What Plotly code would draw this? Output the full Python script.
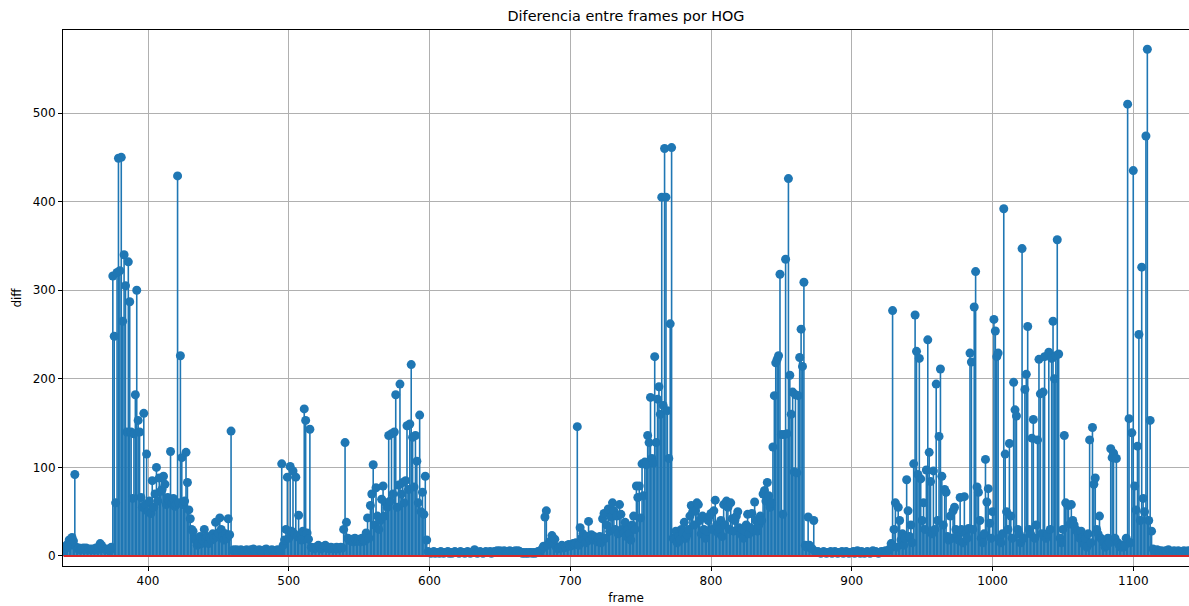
import numpy as np
import plotly.graph_objects as go

# HOG difference between consecutive frames, one value per frame
start_a = 340
diff_a = [
    5, 8, 12, 10, 18, 15, 21, 17, 92, 10,
    8, 9, 7, 8, 9, 8, 9, 7, 8, 7,
    8, 7, 8, 9, 7, 10, 14, 12, 9, 8,
    7, 8, 7, 6, 10, 316, 248, 60, 320, 449,
    322, 450, 265, 340, 305, 140, 332, 287, 140, 65,
    138, 182, 300, 153, 140, 66, 55, 161, 58, 115,
    50, 62, 48, 85, 55, 70, 100, 62, 88, 73,
    75, 90, 81, 58, 66, 62, 118, 60, 65, 56,
    58, 429, 60, 226, 111, 58, 62, 117, 83, 52,
    42, 30, 28, 20, 18, 12, 15, 22, 14, 18,
    30, 20, 22, 14, 20, 18, 25, 20, 38, 22,
    26, 43, 30, 22, 18, 25, 20, 42, 24, 141,
    6, 7, 6, 7, 5, 6, 7, 6, 5, 6,
    7, 6, 5, 7, 6, 8, 6, 5, 6, 7,
    6, 5, 6, 7, 8, 6, 5, 6, 7, 6,
    5, 6, 7, 6, 5, 104, 12, 18, 30, 89,
    20, 101, 28, 96, 25, 89, 22, 46, 20, 18,
    28, 166, 153, 26, 19, 143, 10, 9, 8, 10,
    9, 12, 10, 8, 9, 11, 12, 10, 9, 8,
    10, 9, 8, 9, 10, 8, 9, 10, 9, 30,
    128, 38, 20, 18, 17, 19, 16, 20, 17, 18,
    19, 16, 20, 18, 17, 26, 43, 20, 57, 70,
    103, 35, 77, 45, 30, 40, 64, 79, 45, 60,
    55, 136, 62, 138, 70, 140, 182, 55, 80, 194,
    70, 83, 60, 85, 147, 75, 149, 216, 134, 78,
    136, 107, 60, 159, 50, 72, 47, 90, 18, 5,
]

start_b = 600
diff_b = [
    4, 3, 4, 5, 3, 4, 4, 3, 5, 4,
    3, 4, 4, 5, 3, 4, 3, 4, 5, 4,
    4, 3, 5, 4, 4, 3, 4, 5, 4, 3,
    4, 5, 7, 4, 3, 4, 5, 4, 3, 4,
    5, 4, 4, 5, 3, 4, 5, 4, 6, 5,
    6, 5, 4, 6, 5, 4, 5, 6, 5, 4,
    5, 6, 4, 6, 5, 4, 3, 4, 3, 4,
    3, 4, 4, 3, 4, 3, 4, 5, 4, 6,
    8, 11, 44, 51, 12, 15, 17, 23, 14, 19,
    10, 8, 9, 10, 12, 9, 11, 10, 12, 13,
    11, 12, 14, 13, 15, 146, 12, 32, 20, 25,
    18, 15, 22, 39, 18, 24, 20, 22, 21, 16,
    20, 22, 15, 42, 48, 20, 35, 53, 28, 44,
    60, 51, 30, 45, 25, 58, 47, 30, 26, 38,
    22, 30, 25, 18, 35, 45, 30, 79, 66, 79,
    43, 104, 68, 106, 103, 136, 128, 179, 110, 105,
    225, 128, 177, 191, 160, 405, 170, 460, 405, 164,
    110, 262, 461, 20, 19, 28, 15, 22, 18, 30,
    26, 38, 20, 24, 30, 45, 57, 50, 35, 51,
    60, 58, 40, 25, 45, 30, 20, 28, 40, 45,
    48, 30, 51, 63, 35, 26, 30, 40, 22, 58,
    35, 62, 55, 30, 60, 42, 28, 40, 45, 50,
    32, 25, 30, 20, 28, 35, 47, 25, 32, 48,
    30, 61, 40, 28, 35, 45, 40, 70, 74, 62,
    83, 68, 55, 60, 123, 181, 218, 222, 226, 318,
    137, 47, 137, 335, 138, 426, 204, 160, 185, 95,
    182, 94, 181, 224, 256, 214, 309, 12, 10, 44,
    12, 9, 8, 40, 5,
]

start_c = 875
diff_c = [
    4, 5, 4, 3, 4,
    5, 4, 3, 4, 4, 5, 3, 4, 5, 4,
    3, 4, 4, 5, 3, 4, 5, 4, 3, 4,
    4, 5, 3, 4, 6, 4, 3, 5, 4, 3,
    4, 5, 4, 3, 4, 6, 4, 5, 4, 3,
    4, 5, 4, 5, 6, 5, 6, 8, 14, 277,
    30, 60, 10, 55, 40, 18, 25, 12, 20, 86,
    51, 22, 35, 15, 104, 272, 231, 92, 223, 87,
    40, 60, 30, 97, 244, 117, 84, 25, 96, 30,
    194, 40, 135, 211, 90, 35, 75, 72, 22, 18,
    45, 20, 51, 55, 30, 22, 18, 66, 30, 15,
    67, 25, 20, 31, 229, 219, 30, 281, 321, 78,
    72, 40, 20, 15, 25, 109, 61, 76, 37, 20,
    50, 267, 254, 225, 229, 20, 15, 25, 392, 115,
    50, 30, 127, 45, 20, 196, 165, 158, 30, 25,
    15, 347, 20, 188, 205, 259, 30, 25, 133, 154,
    20, 35, 131, 222, 183, 25, 185, 225, 20, 25,
    230, 30, 223, 265, 200, 226, 357, 228, 20, 15,
    30, 136, 60, 58, 57, 36, 58, 40, 35, 30,
    28, 25, 20, 28, 21, 13, 20, 10, 25, 131,
    15, 145, 81, 88, 30, 25, 45, 20, 18, 15,
    10, 12, 20, 15, 121, 111, 116, 20, 110, 15,
    12, 10, 12, 10, 12, 20, 510, 155, 15, 139,
    435, 79, 52, 124, 250, 40, 326, 65, 50, 474,
    572, 40, 153, 28, 8, 6, 5, 7, 6, 5,
    6, 5, 4, 6, 5, 7, 5, 4, 5, 6,
    5, 4, 6, 5, 4, 5, 6, 4, 5, 6,
    5,
]

x_ticks = [400, 500, 600, 700, 800, 900, 1000, 1100]
y_ticks = [0, 100, 200, 300, 400, 500]

frames = np.concatenate([
    start_a + np.arange(len(diff_a)),
    start_b + np.arange(len(diff_b)),
    start_c + np.arange(len(diff_c)),
])
diff = np.array(diff_a + diff_b + diff_c, dtype=float)

BLUE = "#1f77b4"
RED = "#d62728"
FONT = "DejaVu Sans"

# vertical stems: (x, 0) -> (x, value), separated by gaps
n = len(frames)
stem_x = np.empty(n * 3, dtype=object)
stem_y = np.empty(n * 3, dtype=object)
stem_x[0::3] = frames
stem_x[1::3] = frames
stem_x[2::3] = None
stem_y[0::3] = 0.0
stem_y[1::3] = diff
stem_y[2::3] = None

fig = go.Figure()
fig.add_trace(go.Scatter(
    x=stem_x, y=stem_y, mode="lines",
    line=dict(color=BLUE, width=1.6),
    hoverinfo="skip", showlegend=False,
))
fig.add_trace(go.Scatter(
    x=frames, y=diff, mode="markers",
    marker=dict(color=BLUE, size=9, line=dict(width=0)),
    showlegend=False,
))

# red baseline at zero, drawn over the stems and markers
fig.add_shape(
    type="line", xref="x", yref="y",
    x0=frames.min(), x1=frames.max(), y0=0, y1=0,
    line=dict(color=RED, width=2), layer="above",
)

fig.update_layout(
    width=1189, height=606,
    margin=dict(l=63, r=0, t=30, b=40),
    paper_bgcolor="white", plot_bgcolor="white",
    font=dict(family=FONT, size=12, color="black"),
    title=dict(text="Diferencia entre frames por HOG", x=0.5, xref="paper",
               y=1 - 16 / 606, yref="container", yanchor="middle",
               font=dict(family=FONT, size=14.4, color="black")),
    xaxis=dict(
        range=[339.6, 1139.6], tickvals=x_ticks,
        showgrid=True, gridcolor="#b0b0b0", gridwidth=1,
        zeroline=False, showline=True, linecolor="black", linewidth=1,
        mirror=True, ticks="outside", ticklen=4, tickcolor="black",
        title=dict(text="frame", standoff=6, font=dict(family=FONT, size=12)),
    ),
    yaxis=dict(
        range=[-11.3, 593.7], tickvals=y_ticks,
        showgrid=True, gridcolor="#b0b0b0", gridwidth=1,
        zeroline=False, showline=True, linecolor="black", linewidth=1,
        mirror=False, ticks="outside", ticklen=4, tickcolor="black",
        title=dict(text="diff", standoff=8, font=dict(family=FONT, size=12)),
    ),
)

fig.write_html("out.html")
